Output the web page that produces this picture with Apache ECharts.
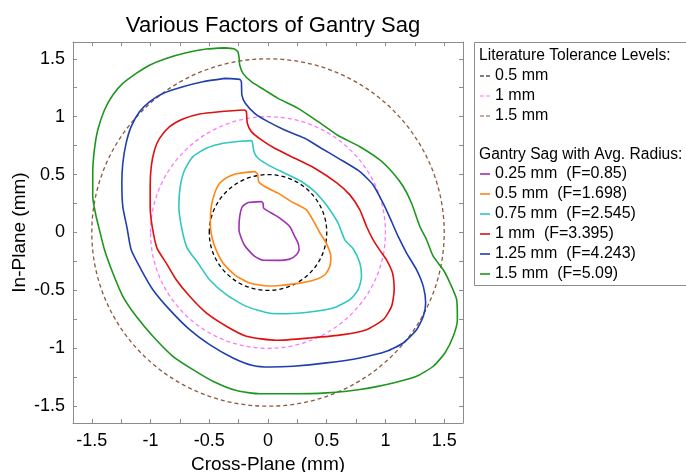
<!DOCTYPE html>
<html>
<head>
<meta charset="utf-8">
<script src="https://cdn.jsdelivr.net/npm/echarts@6/dist/echarts.min.js"></script>
<style>
html, body { margin: 0; padding: 0; background: #fff; }
#sag { width: 686px; height: 472px; }
</style>
</head>
<body>
<div id="sag"></div>
<script>
// axis ticks / labels (mm)
var tickValues = [-1.5, -1.25, -1, -0.75, -0.5, -0.25, 0, 0.25, 0.5, 0.75, 1, 1.25, 1.5];
var labelValues = [-1.5, -1, -0.5, 0, 0.5, 1, 1.5];

// literature tolerance circles
var toleranceNames = ["0.5 mm", "1 mm", "1.5 mm"];
var toleranceRadii = [0.5, 1, 1.5];
var toleranceColors = ["#000000", "#ff77ff", "#8b5a3c"];

// gantry sag contours
var sagNames = [
  "0.25 mm  (F=0.85)",
  "0.5 mm  (F=1.698)",
  "0.75 mm  (F=2.545)",
  "1 mm  (F=3.395)",
  "1.25 mm  (F=4.243)",
  "1.5 mm  (F=5.09)"
];
var sagColors = ["#a030b4", "#ff8515", "#2ec8c0", "#e01010", "#1f3fb0", "#1e961e"];

var sag025 = [[-0.17, 0.259], [-0.057, 0.267], [-0.042, 0.253], [-0.037, 0.21], [0.0, 0.185], [0.06, 0.15],
  [0.1, 0.124], [0.185, 0.052], [0.228, -0.035], [0.256, -0.092], [0.265, -0.149], [0.242, -0.192],
  [0.185, -0.23], [0.071, -0.241], [-0.04, -0.24], [-0.113, -0.207], [-0.2, -0.11], [-0.247, 0.023],
  [-0.241, 0.138], [-0.218, 0.224]];
var sag050 = [[-0.28, 0.505], [-0.114, 0.526], [-0.088, 0.505], [-0.079, 0.44], [-0.028, 0.397], [0.085, 0.34],
  [0.199, 0.267], [0.327, 0.195], [0.398, 0.08], [0.44, 0.0], [0.5, -0.1], [0.535, -0.207],
  [0.526, -0.293], [0.484, -0.365], [0.398, -0.408], [0.27, -0.437], [0.1, -0.457], [0.015, -0.462],
  [-0.156, -0.437], [-0.284, -0.365], [-0.383, -0.264], [-0.454, -0.12], [-0.485, 0.0], [-0.491, 0.081],
  [-0.483, 0.224], [-0.454, 0.339], [-0.412, 0.425], [-0.34, 0.48]];
var sag075 = [[-0.241, 0.788], [-0.142, 0.793], [-0.133, 0.78], [-0.119, 0.698], [-0.085, 0.641], [0.0, 0.584],
  [0.142, 0.512], [0.285, 0.44], [0.398, 0.353], [0.45, 0.295], [0.51, 0.22], [0.597, 0.081], [0.654, -0.063],
  [0.725, -0.14], [0.782, -0.264], [0.796, -0.379], [0.768, -0.494], [0.697, -0.58], [0.555, -0.652],
  [0.355, -0.687], [0.157, -0.701], [0.015, -0.697], [-0.184, -0.638], [-0.355, -0.537], [-0.497, -0.408],
  [-0.596, -0.264], [-0.69, -0.13], [-0.735, 0.04], [-0.759, 0.224], [-0.747, 0.397], [-0.71, 0.54],
  [-0.639, 0.655], [-0.525, 0.727], [-0.383, 0.77]];
var sag100 = [[-0.412, 1.043], [-0.2, 1.058], [-0.184, 1.043], [-0.176, 0.943], [-0.142, 0.871], [-0.056, 0.799],
  [0.057, 0.727], [0.228, 0.641], [0.398, 0.555], [0.583, 0.43], [0.697, 0.325], [0.782, 0.196],
  [0.839, 0.052], [0.895, -0.063], [0.95, -0.15], [1.009, -0.236], [1.06, -0.35],
  [1.074, -0.494], [1.052, -0.638], [0.981, -0.753], [0.839, -0.839], [0.64, -0.882], [0.355, -0.911],
  [0.071, -0.931], [-0.184, -0.896], [-0.355, -0.81], [-0.525, -0.695], [-0.667, -0.551], [-0.781, -0.408],
  [-0.866, -0.264], [-0.945, -0.135], [-0.986, 0.052], [-1.003, 0.224], [-1.003, 0.397], [-0.994, 0.569],
  [-0.966, 0.713], [-0.923, 0.813], [-0.838, 0.914], [-0.724, 0.98], [-0.582, 1.023]];
var sag125 = [[-0.369, 1.331], [-0.241, 1.322], [-0.227, 1.302], [-0.222, 1.187], [-0.193, 1.116], [-0.113, 1.029],
  [0.0, 0.957], [0.142, 0.885], [0.313, 0.814], [0.45, 0.73], [0.6, 0.64], [0.782, 0.526],
  [0.895, 0.411], [0.98, 0.253], [1.052, 0.095], [1.108, -0.034], [1.18, -0.178],
  [1.265, -0.322], [1.322, -0.465], [1.342, -0.609], [1.322, -0.724], [1.265, -0.839], [1.151, -0.954],
  [1.009, -1.026], [0.782, -1.083], [0.498, -1.126], [0.213, -1.155], [0.015, -1.162], [-0.128, -1.149],
  [-0.298, -1.083], [-0.497, -0.968], [-0.667, -0.839], [-0.838, -0.666], [-0.98, -0.494], [-1.079, -0.322],
  [-1.165, -0.149], [-1.2, 0.04], [-1.236, 0.224], [-1.244, 0.425], [-1.236, 0.598], [-1.208, 0.77],
  [-1.165, 0.914], [-1.094, 1.043], [-1.009, 1.129], [-0.895, 1.201], [-0.724, 1.259], [-0.554, 1.302]];
var sag150 = [[-0.369, 1.594], [-0.29, 1.586], [-0.256, 1.56], [-0.245, 1.5], [-0.241, 1.446], [-0.213, 1.374],
  [-0.142, 1.302], [-0.028, 1.23], [0.085, 1.158], [0.256, 1.072], [0.43, 0.955], [0.59, 0.842],
  [0.782, 0.741], [0.952, 0.627], [1.066, 0.512], [1.151, 0.397], [1.222, 0.253], [1.293, 0.052],
  [1.35, -0.063], [1.407, -0.207], [1.492, -0.322], [1.549, -0.436], [1.606, -0.58], [1.612, -0.753],
  [1.577, -0.896], [1.506, -1.04], [1.407, -1.155], [1.265, -1.241], [1.066, -1.299], [0.782, -1.356],
  [0.498, -1.385], [0.213, -1.393], [-0.071, -1.393], [-0.269, -1.365], [-0.469, -1.284], [-0.639, -1.184],
  [-0.81, -1.069], [-0.98, -0.896], [-1.122, -0.724], [-1.236, -0.551], [-1.321, -0.35], [-1.392, -0.149],
  [-1.435, 0.023], [-1.463, 0.138], [-1.492, 0.311], [-1.492, 0.512], [-1.478, 0.713], [-1.449, 0.885],
  [-1.392, 1.058], [-1.321, 1.187], [-1.236, 1.287], [-1.122, 1.374], [-1.009, 1.445], [-0.867, 1.503],
  [-0.696, 1.552], [-0.525, 1.584]];
var sagData = [sag025, sag050, sag075, sag100, sag125, sag150];

var FONT = "Liberation Sans";
var AXIS_GREY = "#8c8c8c";

function closeLoop(pts) {
  return pts.concat([pts[0]]);
}

function circleItem(params, api) {
  var c = api.coord([api.value(0), api.value(1)]);
  var s = api.size([api.value(2), api.value(2)]);
  return {
    type: "ellipse",
    shape: { cx: c[0], cy: c[1], rx: s[0], ry: s[1] },
    style: { fill: "none", stroke: api.visual("color"), lineWidth: 1.3, lineDash: [4, 3] }
  };
}

function makeAxis(pos, showLabel, extra) {
  var ax = {
    type: "value",
    position: pos,
    axisLine: { show: true, onZero: false, lineStyle: { color: AXIS_GREY, width: 1 } },
    axisTick: { show: true, inside: true, length: 4, customValues: tickValues, lineStyle: { color: AXIS_GREY } },
    axisLabel: {
      show: showLabel,
      customValues: labelValues,
      color: "#000",
      fontFamily: FONT,
      fontSize: 18
    },
    splitLine: { show: false }
  };
  return Object.assign(ax, extra);
}

var chart = echarts.init(document.getElementById("sag"));

var series = [];
sagData.forEach(function (pts, i) {
  series.push({
    name: sagNames[i],
    type: "line",
    data: closeLoop(pts),
    symbol: "none",
    smooth: 0.2,
    color: sagColors[i],
    lineStyle: { width: 1.6, color: sagColors[i] },
    silent: true,
    z: 3
  });
});
toleranceRadii.forEach(function (r, i) {
  series.push({
    name: toleranceNames[i],
    type: "custom",
    renderItem: circleItem,
    data: [[0, 0, r]],
    encode: { x: 0, y: 1 },
    itemStyle: { color: toleranceColors[i] },
    silent: true,
    z: 2
  });
});

var dashIcon = "path://M0,0h4v1h-4z M6,0h4v1h-4z";

var option = {
  backgroundColor: "#fff",
  animation: false,
  title: {
    text: "Various Factors of Gantry Sag",
    left: 268,
    top: 10,
    textAlign: "center",
    textStyle: { fontFamily: FONT, fontSize: 22, fontWeight: "normal", color: "#000" }
  },
  grid: {
    left: 73,
    right: 223,
    top: 42,
    bottom: 49,
    outerBoundsMode: "none"
  },
  xAxis: [
    makeAxis("bottom", true, {
      min: -1.66, max: 1.66,
      name: "Cross-Plane (mm)",
      nameLocation: "middle",
      nameGap: 28,
      nameTextStyle: { fontFamily: FONT, fontSize: 19, color: "#000" },
      axisLabel: { show: true, customValues: labelValues, color: "#000", fontFamily: FONT, fontSize: 18, margin: 9 }
    }),
    makeAxis("top", false, { min: -1.66, max: 1.66 })
  ],
  yAxis: [
    makeAxis("left", true, {
      min: -1.645, max: 1.645,
      name: "In-Plane (mm)",
      nameLocation: "middle",
      nameGap: 44,
      nameMoveOverlap: false,
      nameTextStyle: { fontFamily: FONT, fontSize: 19, color: "#000" },
      axisLabel: { show: true, customValues: labelValues, color: "#000", fontFamily: FONT, fontSize: 18, margin: 8 }
    }),
    makeAxis("right", false, { min: -1.645, max: 1.645 })
  ],
  legend: [
    {
      data: toleranceNames.map(function (n) { return { name: n, icon: dashIcon }; }),
      orient: "vertical",
      left: 480,
      top: 66,
      padding: 0,
      itemGap: 0,
      itemWidth: 10,
      itemHeight: 1.4,
      selectedMode: false,
      textStyle: { fontFamily: FONT, fontSize: 16, color: "#000", lineHeight: 20 }
    },
    {
      data: sagNames.map(function (n) { return { name: n, icon: "rect" }; }),
      orient: "vertical",
      left: 480,
      top: 164,
      padding: 0,
      itemGap: 0,
      itemWidth: 10,
      itemHeight: 1.6,
      selectedMode: false,
      textStyle: { fontFamily: FONT, fontSize: 16, color: "#000", lineHeight: 20 }
    }
  ],
  graphic: [
    {
      type: "rect",
      left: 474,
      top: 42,
      shape: { width: 220, height: 243 },
      style: { fill: "#fff", stroke: AXIS_GREY, lineWidth: 1 },
      z: -1,
      silent: true
    },
    {
      type: "text",
      left: 479,
      top: 48,
      style: { text: "Literature Tolerance Levels:", fontFamily: FONT, fontSize: 15.6, fill: "#000" },
      silent: true
    },
    {
      type: "text",
      left: 479,
      top: 147,
      style: { text: "Gantry Sag with Avg. Radius:", fontFamily: FONT, fontSize: 15.6, fill: "#000" },
      silent: true
    }
  ],
  series: series
};

chart.setOption(option);
</script>
</body>
</html>
